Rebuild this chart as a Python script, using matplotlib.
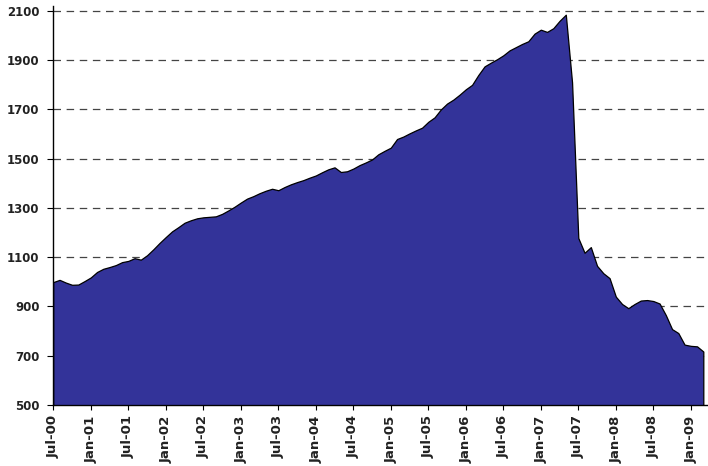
import matplotlib
matplotlib.use("Agg")
import matplotlib.pyplot as plt
import numpy as np

# monthly values, Jul-00 .. Mar-09
values = [
    999, 1008, 997, 988, 989, 1003,          # Jul-00 .. Dec-00
    1018, 1040, 1053, 1060, 1068, 1080,      # 2001 H1
    1085, 1096, 1090, 1108, 1132, 1158,      # 2001 H2
    1182, 1205, 1222, 1240, 1250, 1258,      # 2002 H1
    1262, 1264, 1266, 1276, 1290, 1305,      # 2002 H2
    1322, 1338, 1348, 1360, 1370, 1378,      # 2003 H1
    1372, 1385, 1396, 1405, 1413, 1423,      # 2003 H2
    1432, 1445, 1457, 1465, 1446, 1449,      # 2004 H1
    1460, 1474, 1485, 1497, 1518, 1532,      # 2004 H2
    1545, 1580, 1590, 1603, 1615, 1626,      # 2005 H1
    1650, 1668, 1700, 1724, 1740, 1760,      # 2005 H2
    1782, 1800, 1840, 1875, 1890, 1904,      # 2006 H1
    1920, 1940, 1953, 1966, 1977, 2008,      # 2006 H2
    2024, 2015, 2030, 2060, 2085, 1810,      # 2007 H1
    1178, 1118, 1141, 1065, 1035, 1015,      # 2007 H2
    940, 910, 893, 910, 924, 926,            # 2008 H1
    922, 912, 865, 808, 792, 745,            # 2008 H2
    740, 738, 717,                           # 2009
]
tick_labels = ["Jul-00", "Jan-01", "Jul-01", "Jan-02", "Jul-02", "Jan-03",
               "Jul-03", "Jan-04", "Jul-04", "Jan-05", "Jul-05", "Jan-06",
               "Jul-06", "Jan-07", "Jul-07", "Jan-08", "Jul-08", "Jan-09"]

x = np.arange(len(values))

fig = plt.figure(figsize=(7.08, 4.66), dpi=100)
ax = fig.add_axes([0.0753, 0.131, 0.9247, 0.856])

ax.fill_between(x, 500, values, facecolor="#333399", edgecolor="black",
                linewidth=0.9, zorder=3)

ax.set_xlim(0, 104.75)
ax.set_ylim(500, 2120)
ax.set_yticks(range(500, 2101, 200))
ax.set_xticks(range(0, 103, 6))
ax.set_xticklabels(tick_labels, rotation=90)

ax.yaxis.grid(True, linestyle=(0, (6, 4.5)), color="#444444", linewidth=0.9, zorder=0)
ax.set_axisbelow(True)

for s in ["top", "right"]:
    ax.spines[s].set_visible(False)
ax.spines["left"].set_linewidth(1.0)
ax.spines["bottom"].set_linewidth(1.0)

ax.tick_params(axis="y", length=4, width=0.8, pad=6, labelsize=8.5)
ax.tick_params(axis="x", length=3.5, width=0.8, pad=4, labelsize=9.5)
for lab in ax.get_xticklabels() + ax.get_yticklabels():
    lab.set_fontweight("bold")
    lab.set_color("#222222")

fig.savefig("out.png", dpi=100)
